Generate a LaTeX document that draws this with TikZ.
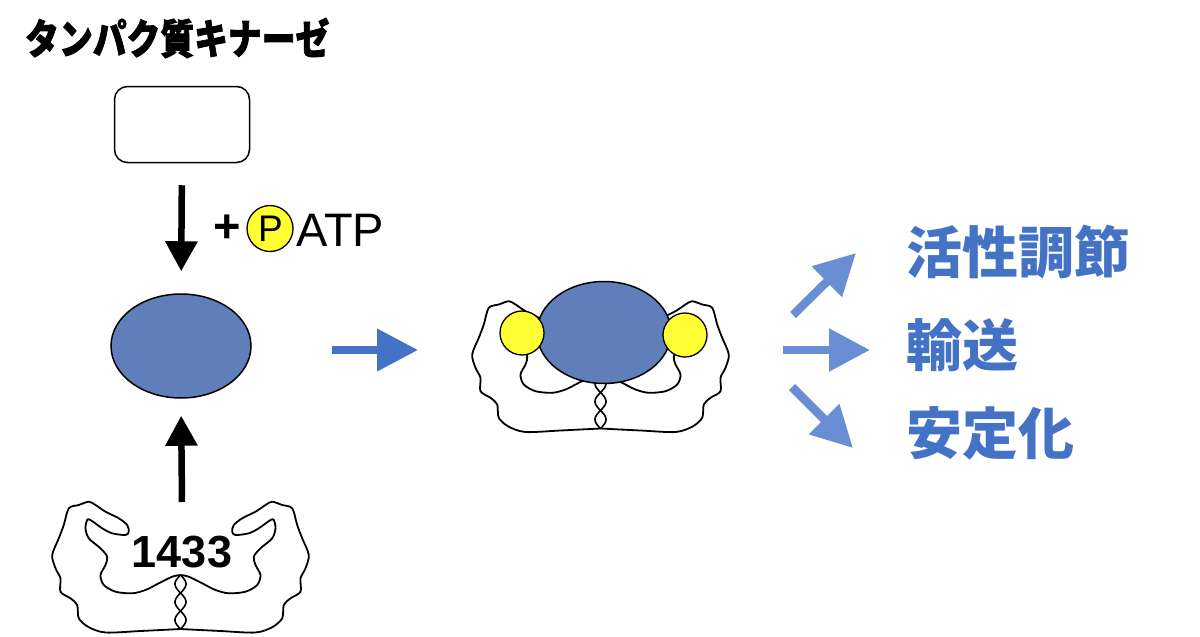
\documentclass[tikz,border=0pt]{standalone}
\usepackage{fontspec}
\setmainfont{Liberation Sans}
\newfontfamily\jp{Noto Sans CJK JP}
\newfontfamily\jpheavy{Noto Sans CJK JP}[BoldFeatures={FakeBold=2}]
\usetikzlibrary{arrows.meta,shapes.geometric}
\definecolor{ellblue}{RGB}{96,126,186}
\definecolor{midblue}{RGB}{68,114,196}
\definecolor{lightblue}{RGB}{106,142,212}
\definecolor{pyellow}{RGB}{255,255,51}

\newcommand\ftshape{%
  \foreach \s in {1,-1}{%
    \draw[line width=1.8pt, line join=round, xscale=\s] plot[smooth, tension=.5] coordinates {
      (0,129) (-40,131) (-75,132.5) (-92,127) (-101.7,118.3) (-103.3,105)
      (-110,98.3) (-120,91.7) (-120,78.3) (-125,68.3) (-128.3,55) (-121.7,38.3)
      (-116.7,25) (-111.7,8.3) (-101.7,5) (-91.7,1.7) (-85,5) (-75,11.7)
      (-61.7,18.3) (-53.3,25) (-51.7,31.7) (-55,35) (-68.3,33.3) (-78.3,28.3)
      (-90,20) (-93.3,20) (-95,28.3) (-91.7,38.3) (-80,48.3) (-73.3,56.7)
      (-75,65) (-80,75) (-76.7,85) (-65,91.7) (-48.3,93.3) (-35,90)
      (-21.7,83.3) (-8.3,76.7) (0,75)};
    \draw[line width=1.6pt, xscale=\s] plot[domain=75:129, samples=60, smooth]
      ({5.5*sin((\x-75)/54*540)}, \x);
  }}

\begin{document}
\begin{tikzpicture}[x=1pt,y=-1pt,
  kbox/.style={draw, line width=1.5pt, rounded corners=13pt, minimum width=135pt, minimum height=76pt, inner sep=0pt},
  bell/.style={ellipse, draw, line width=1.5pt, fill=ellblue, inner sep=0pt},
  pcirc/.style={circle, draw, line width=1.3pt, fill=pyellow, inner sep=0pt},
  blackarrow/.style={line width=6.5pt, -{Triangle[width=31pt,length=30pt]}},
  midarrow/.style={draw=midblue, line width=7.5pt, -{Triangle[width=41pt,length=41pt]}},
  resarrow/.style={draw=lightblue, line width=8.5pt, -{Triangle[width=41pt,length=41pt]}},
  restext/.style={text=midblue, font=\jp\bfseries\fontsize{56}{56}\selectfont, inner sep=0pt, anchor=west}
]
\useasboundingbox (0,0) rectangle (1200,637);

% title
\node[anchor=west, inner sep=0pt, font=\jpheavy\bfseries\fontsize{33.8}{33.8}\selectfont] (title) at (25,38) {\scalebox{1}[1.22]{タンパク質キナーゼ}};

% kinase box and substrate
\node[kbox] (kin) at (182,124.5) {};
\node[bell, minimum width=140pt, minimum height=104pt] (sub) at (181,346) {};

% + P ATP
\node[inner sep=0pt, font=\bfseries\fontsize{47}{47}\selectfont] (plus) at (227.5,229) {+};
\node[pcirc, minimum size=46pt] (pc) at (270,228.5) {};
\node[inner sep=0pt, font=\fontsize{37}{37}\selectfont] (plab) at (270.5,229) {P};
\node[anchor=west, inner sep=0pt, font=\fontsize{47}{47}\selectfont] (atp) at (296,230) {ATP};

% 14-3-3 (free)
\begin{scope}[shift={(180.5,500)}]
  \ftshape
\end{scope}
\node[inner sep=0pt, font=\bfseries\fontsize{45}{45}\selectfont] (name) at (182,552) {1433};
\coordinate (ftop) at (182,502);

% arrows left column
\draw[blackarrow, shorten <=22pt, shorten >=22pt] (kin.south) -- (sub.north);
\draw[blackarrow, shorten >=17pt] (ftop) -- (sub.south);

% middle arrow
\coordinate (ma) at (332,350);
\coordinate (mb) at (418,350);
\draw[midarrow] (ma) -- (mb);

% complex
\begin{scope}[shift={(600.5,299.5)}]
  \ftshape
\end{scope}
\node[bell, minimum width=134pt, minimum height=102pt] (cplx) at (604,332.5) {};
\node[pcirc, minimum size=44pt] (yl) at (522,333) {};
\node[pcirc, minimum size=44pt] (yr) at (685,335) {};

% result arrows
\coordinate (r1a) at (793,315);
\coordinate (r1b) at (856,253);
\coordinate (r2a) at (783,350);
\coordinate (r2b) at (870,350);
\coordinate (r3a) at (792,387);
\coordinate (r3b) at (853,448);
\draw[resarrow] (r1a) -- (r1b);
\draw[resarrow] (r2a) -- (r2b);
\draw[resarrow] (r3a) -- (r3b);

% result texts
\node[restext] (t1) at (906,252) {活性調節};
\node[restext] (t2) at (906,345) {輸送};
\node[restext] (t3) at (906,433) {安定化};
\end{tikzpicture}
\end{document}
